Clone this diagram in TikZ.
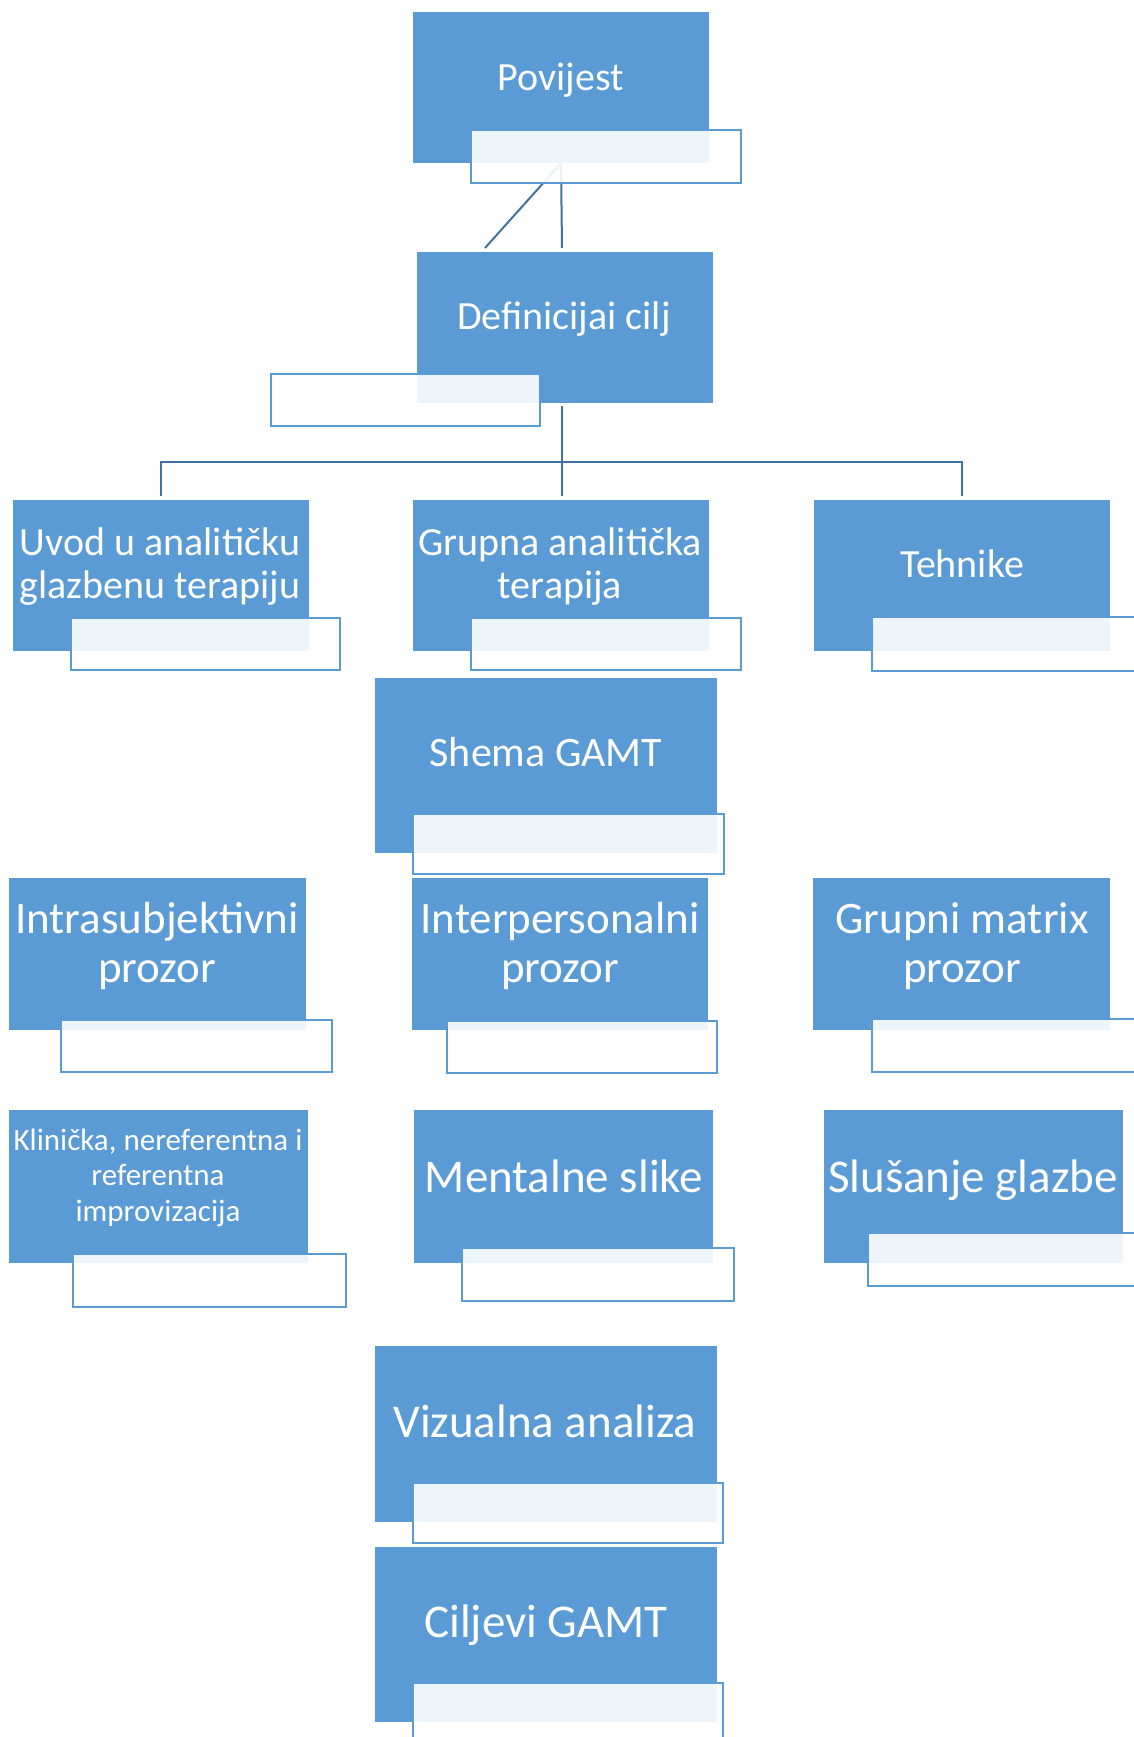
\documentclass[tikz,border=0pt]{standalone}
\usepackage{fontspec}
\setmainfont{Carlito}
\usetikzlibrary{fit}
\definecolor{boxblue}{HTML}{5B9BD5}
\definecolor{lineblue}{HTML}{41719C}
\begin{document}
\begin{tikzpicture}[x=1pt,y=-1pt,
  box/.style={fill=boxblue,inner sep=0pt},
  tab/.style={draw=boxblue,line width=2pt,fill=white,fill opacity=0.9,inner sep=0pt},
  conn/.style={draw=lineblue,line width=2pt},
  lbl/.style={text=white,align=center,anchor=base,inner sep=0pt}]
\useasboundingbox (0,0) rectangle (1134,1737);
\foreach \n/\a/\b/\c/\d in {povijest/413/12/709/163, definicija/417/252/713/403,
    uvod/13/500/309/651, grupna/413/500/709/651, tehnike/814/500/1110/651,
    shema/375/678/717/853, intra/9/878/306/1030, inter/412/878/708/1030,
    matrix/813/878/1110/1030, klinicka/9/1110/308/1263, mentalne/414/1110/713/1263,
    slusanje/824/1110/1123/1263, vizualna/375/1346/717/1522, ciljevi/375/1547/717/1722}
  \node[box,fit={(\a,\b) (\c,\d)}] (\n) {};
\coordinate (d1) at (485,248);
\coordinate (d2) at (562,248);
\coordinate (hub) at (562,462);
\draw[conn] (povijest.south) -- (d1);
\draw[conn] (povijest.south) -- (d2);
\draw[conn] ([yshift=-3pt]hub |- definicija.south) -- (hub);
\draw[conn] ([yshift=4pt]uvod.north) |- (hub) -| ([yshift=4pt]tehnike.north);
\draw[conn] (hub) -- ([yshift=4pt]hub |- grupna.north);
\foreach \n/\a/\b/\c/\d in {povijest/471/130/741/183, definicija/271/374/540/426,
    uvod/71/618/340/670, grupna/471/618/741/670, tehnike/872/617/1142/671,
    shema/413/814/724/874, intra/61/1020/332/1072, inter/447/1021/717/1073,
    matrix/872/1019/1142/1072, klinicka/73/1254/346/1307, mentalne/462/1248/734/1301,
    slusanje/868/1233/1138/1286, vizualna/413/1483/723/1543, ciljevi/413/1683/723/1745}
  \node[tab,fit={(\a,\b) (\c,\d)}] (\n-tab) {};
\node[lbl,font=\fontsize{40}{43}\selectfont] (povijest-txt) at (561,90) {Povijest};
\node[lbl,font=\fontsize{40}{43}\selectfont] (definicija-txt) at (564,329) {Definicijai cilj};
\node[lbl,font=\fontsize{40}{43}\selectfont] (uvod-txt) at (160,598) {Uvod u analitičku\\glazbenu terapiju};
\node[lbl,font=\fontsize{40}{43}\selectfont] (grupna-txt) at (560,598) {Grupna analitička\\terapija};
\node[lbl,font=\fontsize{40}{43}\selectfont] (tehnike-txt) at (962,577) {Tehnike};
\node[lbl,font=\fontsize{42}{45}\selectfont] (shema-txt) at (546,766) {Shema GAMT};
\node[lbl,font=\fontsize{45}{49}\selectfont] (intra-txt) at (157,982) {Intrasubjektivni\\prozor};
\node[lbl,font=\fontsize{45}{49}\selectfont] (inter-txt) at (560,982) {Interpersonalni\\prozor};
\node[lbl,font=\fontsize{45}{49}\selectfont] (matrix-txt) at (962,982) {Grupni matrix\\prozor};
\node[lbl,font=\fontsize{31}{35.5}\selectfont] (klinicka-txt) at (158,1221) {Klinička, nereferentna i\\referentna\\improvizacija};
\node[lbl,font=\fontsize{47}{50}\selectfont] (mentalne-txt) at (564,1192) {Mentalne slike};
\node[lbl,font=\fontsize{47}{50}\selectfont] (slusanje-txt) at (973,1192) {Slušanje glazbe};
\node[lbl,font=\fontsize{47}{50}\selectfont] (vizualna-txt) at (545,1437) {Vizualna analiza};
\node[lbl,font=\fontsize{47}{50}\selectfont] (ciljevi-txt) at (546,1637) {Ciljevi GAMT};
\end{tikzpicture}
\end{document}
